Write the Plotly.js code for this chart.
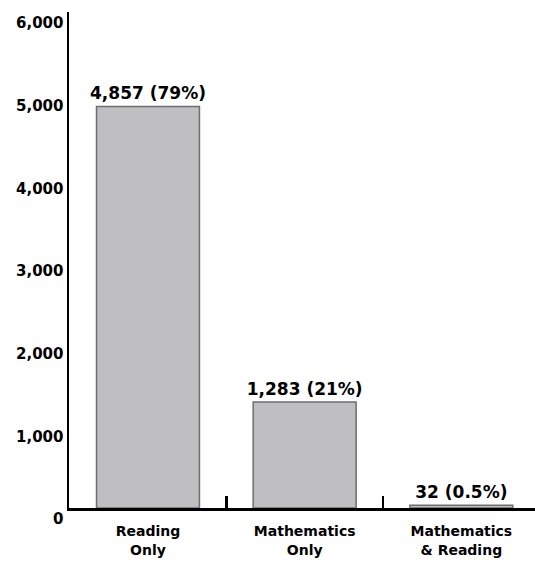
<!DOCTYPE html>
<html>
<head>
<meta charset="utf-8">
<script src="https://cdn.plot.ly/plotly-3.0.1.min.js"></script>
<style>html,body{margin:0;padding:0;background:#fff;}#chart{width:535px;height:563px;}</style>
</head>
<body>
<div id="chart"></div>
<script>
const categories = ["Reading<br>Only", "Mathematics<br>Only", "Mathematics<br>&amp; Reading"];
const counts = [4857, 1283, 32];
const barLabels = ["4,857 (79%)", "1,283 (21%)", "32 (0.5%)"];
const yTickVals = [0, 1000, 2000, 3000, 4000, 5000, 6000];
const yTickText = ["0", "1,000", "2,000", "3,000", "4,000", "5,000", "6,000"];

const font = "DejaVu Sans, sans-serif";

const trace = {
  type: "bar",
  x: categories,
  y: counts,
  text: barLabels,
  textposition: "outside",
  constraintext: "none",
  cliponaxis: false,
  textfont: {family: font, size: 17, color: "#000", weight: "bold"},
  width: 0.657,
  marker: {color: "#bfbfc2", line: {color: "#6e6e6e", width: 1.5}},
  hoverinfo: "none"
};

const layout = {
  width: 535, height: 563,
  margin: {l: 69, r: 0, t: 12, b: 55},
  paper_bgcolor: "#fff", plot_bgcolor: "#fff",
  showlegend: false,
  font: {family: font, color: "#000"},
  xaxis: {
    type: "category",
    range: [-0.504, 2.47],
    showline: true, linecolor: "#000", linewidth: 2.5,
    ticks: "inside", tickson: "boundaries", ticklen: 12, tickwidth: 2.5, tickcolor: "#000",
    ticklabelstandoff: 9,
    tickfont: {family: font, size: 14, color: "#000", weight: "bold"},
    showgrid: false, zeroline: false, fixedrange: true
  },
  yaxis: {
    range: [0, 6000],
    tickvals: yTickVals, ticktext: yTickText,
    showline: true, linecolor: "#000", linewidth: 2.5,
    ticks: "", showgrid: false, zeroline: false,
    ticklabelshift: 11,
    tickfont: {family: font, size: 15, color: "#000", weight: "bold"},
    fixedrange: true
  }
};

Plotly.newPlot("chart", [trace], layout, {staticPlot: true, displayModeBar: false});
</script>
</body>
</html>
